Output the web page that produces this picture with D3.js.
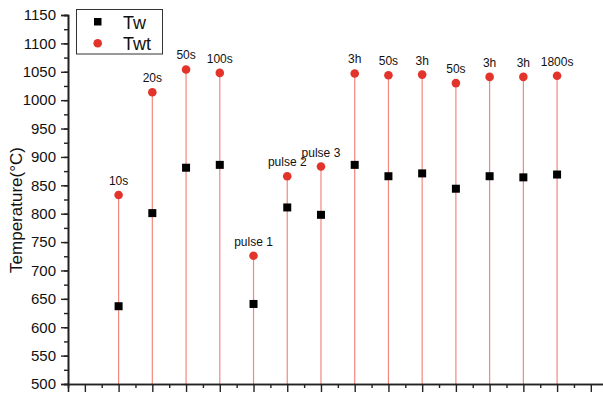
<!DOCTYPE html>
<html>
<head>
<meta charset="utf-8">
<script src="https://cdn.jsdelivr.net/npm/d3@7"></script>
<style>
  body { margin: 0; background: #fff; }
  text { font-family: "Liberation Sans", Arial, sans-serif; fill: #111; }
</style>
</head>
<body>
<svg id="chart" width="603" height="395"></svg>
<script>
const xIndex = [2, 3, 4, 5, 6, 7, 8, 9, 10, 11, 12, 13, 14, 15];
const pointLabels = ["10s", "20s", "50s", "100s", "pulse 1", "pulse 2", "pulse 3", "3h", "50s", "3h", "50s", "3h", "3h", "1800s"];
const tw = [637, 801, 881, 886, 641, 811, 798, 886, 866, 871, 844, 866, 864, 869];
const twt = [833, 1014, 1054, 1048, 726, 866, 883, 1047, 1044, 1045, 1030, 1041, 1041, 1043];
const yTicks = d3.range(500, 1151, 50);

const svg = d3.select("#chart");
const margin = { left: 68, top: 15, bottom: 384 };

const x = d3.scaleLinear().domain([0.5, 16.5]).range([margin.left, margin.left + 16 * 33.73]);
const y = d3.scaleLinear().domain([500, 1150]).range([margin.bottom, margin.top]);

const data = xIndex.map((d, i) => ({ x: d, tw: tw[i], twt: twt[i], label: pointLabels[i] }));

// drop lines
svg.append("g").selectAll("line")
    .data(data)
    .join("line")
    .attr("x1", d => x(d.x))
    .attr("x2", d => x(d.x))
    .attr("y1", d => y(d.twt))
    .attr("y2", y(500))
    .attr("stroke", "#f2877f")
    .attr("stroke-width", 1.2);

// axes
const minorY = d3.axisLeft(y).tickValues(d3.range(500, 1151, 25)).tickSize(4).tickFormat("");
const majorY = d3.axisLeft(y).tickValues(yTicks).tickSize(7).tickPadding(5).tickFormat(d3.format("d"));
const minorX = d3.axisBottom(x).tickValues(d3.range(1.5, 16.5, 1)).tickSize(4).tickFormat("");
const majorX = d3.axisBottom(x).tickValues(d3.range(1, 17, 1)).tickSize(8).tickFormat("");

function style(g) {
    g.select(".domain").attr("stroke", "#222").attr("stroke-width", 1.6);
    g.selectAll(".tick line").attr("stroke", "#222").attr("stroke-width", 1.4);
    g.selectAll(".tick text").attr("font-size", 15).attr("fill", "#111")
        .attr("font-family", "Liberation Sans, Arial, sans-serif");
}

svg.append("g").attr("transform", `translate(${margin.left},0)`).call(minorY).call(style);
svg.append("g").attr("transform", `translate(${margin.left},0)`).call(majorY).call(style);
svg.append("g").attr("transform", `translate(0,${margin.bottom})`).call(minorX).call(style);
svg.append("g").attr("transform", `translate(0,${margin.bottom})`).call(majorX).call(style);

svg.append("text")
    .attr("transform", "translate(22,210) rotate(-90)")
    .attr("text-anchor", "middle")
    .attr("font-size", 17)
    .text("Temperature(°C)");

// Tw squares
svg.append("g").selectAll("rect")
    .data(data)
    .join("rect")
    .attr("x", d => x(d.x) - 4)
    .attr("y", d => y(d.tw) - 4)
    .attr("width", 8)
    .attr("height", 8)
    .attr("fill", "#000");

// Twt circles
svg.append("g").selectAll("circle")
    .data(data)
    .join("circle")
    .attr("cx", d => x(d.x))
    .attr("cy", d => y(d.twt))
    .attr("r", 4.3)
    .attr("fill", "#e3342b");

svg.append("g").selectAll("text")
    .data(data)
    .join("text")
    .attr("x", d => x(d.x))
    .attr("y", d => y(d.twt) - 10)
    .attr("text-anchor", "middle")
    .attr("font-size", 12)
    .text(d => d.label);

// legend
const legend = svg.append("g");
legend.append("rect")
    .attr("x", 76.5).attr("y", 9.5)
    .attr("width", 86).attr("height", 44.5)
    .attr("fill", "#fff").attr("stroke", "#333").attr("stroke-width", 1);
legend.append("rect")
    .attr("x", 94).attr("y", 18).attr("width", 7.5).attr("height", 7.5).attr("fill", "#000");
legend.append("circle")
    .attr("cx", 97.7).attr("cy", 43.3).attr("r", 4.3).attr("fill", "#e3342b");
legend.append("text").attr("x", 123).attr("y", 28.5).attr("font-size", 18).text("Tw");
legend.append("text").attr("x", 123).attr("y", 50).attr("font-size", 18).text("Twt");
</script>
</body>
</html>
